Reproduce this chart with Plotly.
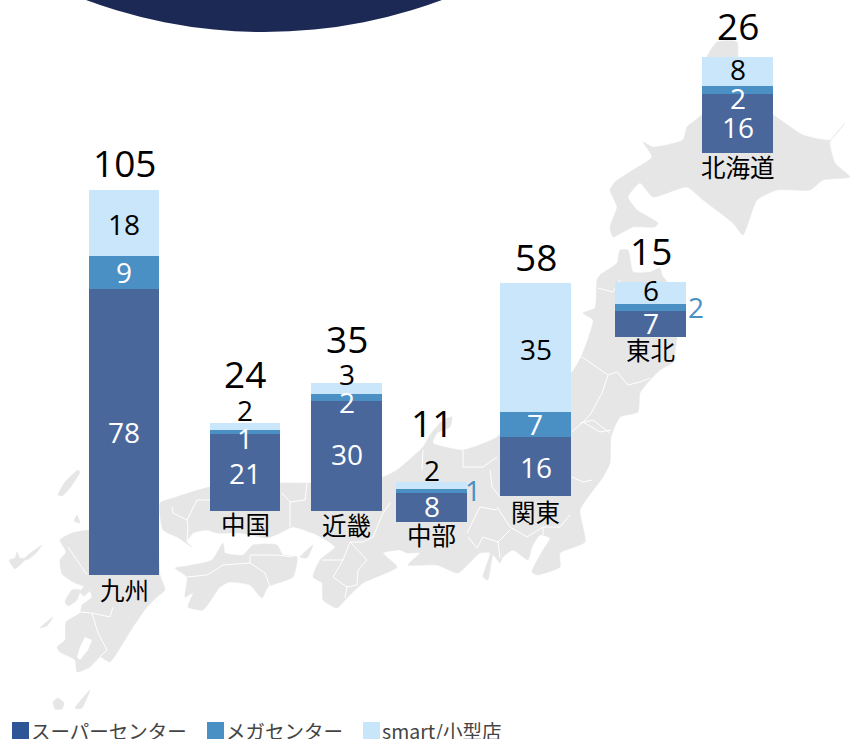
import numpy as np
import plotly.graph_objects as go

# ---------- chart data ----------
regions = ["九州", "中国", "近畿", "中部", "関東", "東北", "北海道"]
super_center = [78, 21, 30, 8, 16, 7, 16]
mega_center = [9, 1, 2, 1, 7, 2, 2]
smart_store = [18, 2, 3, 2, 35, 6, 8]
totals = [105, 24, 35, 11, 58, 15, 26]
series_names = ["スーパーセンター", "メガセンター", "smart/小型店"]

# ---------- layout of the pictogram ----------
bar_x = [124, 245, 346.5, 431.5, 535.5, 650.5, 737.5]
bar_bottom_px = [575, 511, 511, 522, 496, 337, 152.5]
PX_PER_STORE = 3.667
W, H = 850, 739

C_SUPER, C_MEGA, C_SMART = "#4a679c", "#4a90c5", "#c9e6fa"
C_SWATCH = ["#2e5596", "#4a90c5", "#c7e6fa"]
LAND = "#e6e6e6"

total_y = [162, 373, 338, 422, 256, 250, 25]
region_y = [589, 523, 524, 534, 511, 349, 166]
super_y = [432, 473, 454, 506, 467, 323, 127]
mega_pos = [(124, 272, "w"), (245, 438, "w"), (347, 402, "w"), (473, 490, "b"),
            (535, 424, "w"), (696, 307, "b"), (738, 98, "w")]
smart_y = [224, 410, 374, 470, 349, 290, 69]

# ---------- backdrop map outline (pixel space) ----------
land_polys = [
    # Hokkaido
    [(717,42),(707,57),(703,113),(687,127),(683,140),(653,147),(643,142),(652,157),(633,170),(615,182),(610,190),
     (617,207),(610,227),(613,237),(633,227),(655,227),(658,223),(637,210),(628,197),(640,183),(653,197),(687,187),
     (703,200),(733,223),(743,235),(757,200),(777,190),(810,190),(823,180),(850,177),(835,163),(830,142),(845,123),
     (830,140),(803,135),(773,115),(737,100),(737,42)],
    # Honshu
    [(160,503),(173,498),(210,487),(280,483),(307,483),(383,477),(397,470),(423,447),(430,435),(443,420),(452,417),
     (450,427),(437,433),(433,443),(463,450),(497,437),(520,410),(572,372),(582,355),(593,320),(583,313),(595,308),
     (597,280),(600,275),(617,263),(620,250),(628,250),(633,272),(650,272),(660,268),(662,275),(680,300),(676,345),
     (673,362),(660,370),(650,380),(640,393),(638,412),(620,417),(611,437),(610,463),(603,477),(580,510),(585,542),
     (560,553),(560,567),(537,575),(532,572),(543,550),(550,538),(540,535),(532,547),(528,560),(513,550),(503,557),
     (500,563),(493,555),(488,580),(483,577),(490,553),(480,553),(458,573),(437,565),(408,565),(420,553),(407,553),
     (400,550),(383,553),(397,567),(363,583),(347,598),(337,608),(323,600),(322,583),(313,577),(320,560),(335,547),
     (317,535),(293,527),(280,533),(267,538),(240,533),(217,533),(207,530),(193,533),(187,542),(192,547),(177,537),
     (163,530)],
    # Shikoku
    [(175,568),(187,566),(212,560),(223,543),(225,553),(243,555),(253,545),(277,545),(283,555),(297,557),(293,577),
     (268,587),(262,598),(250,585),(230,582),(220,587),(203,610),(188,607),(193,593),(185,597),(187,577)],
    # Awaji
    [(300,557),(313,545),(307,558)],
    # Kyushu
    [(89,530),(155,530),(160,575),(165,590),(157,597),(147,607),(133,627),(123,643),(110,662),(100,657),(90,667),
     (77,672),(75,660),(60,652),(57,647),(65,640),(66,622),(80,613),(82,605),(92,597),(88,588),(75,583),(62,574),
     (60,560),(66,552),(60,540),(72,533)],
    # Shimabara and nearby
    [(65,602),(72,590),(80,590),(77,600),(68,606)],
    [(80,592),(85,586),(90,590),(84,596)],
    # Tsushima, Iki, Goto, Koshiki, Tanegashima, Yakushima
    [(58,495),(65,482),(78,470),(80,472),(70,488),(62,496)],
    [(74,521),(77,515),(80,523)],
    [(9,560),(15,558),(17,552),(20,558),(27,558),(21,564),(15,569)],
    [(25,558),(42,545),(36,553),(27,560)],
    [(40,628),(53,617),(47,626)],
    [(75,708),(90,690),(82,708),(76,709)],
    [(53,702),(58,698),(64,703),(62,709),(55,709)],
]
bay_polys = [
    [(80,647),(85,637),(92,640),(88,650),(80,660),(77,657)],
]
border_lines = [
    [(582,357),(603,372),(608,375),(617,372),(628,385),(640,382),(650,378)],
    [(608,375),(602,393),(590,415),(583,422),(600,432),(611,430)],
    [(583,422),(572,432)],
    [(598,288),(613,292),(620,280)],
    [(572,477),(583,482),(592,480)],
    [(580,423),(593,420),(610,433)],
    [(497,507),(510,527),(527,537),(543,527),(543,535)],
    [(570,515),(560,527),(543,527)],
    [(467,533),(480,507),(497,510)],
    [(468,537),(477,548),(483,537),(498,542),(500,558)],
    [(498,542),(510,530)],
    [(423,450),(422,470)],
    [(463,450),(463,467),(483,467),(497,457)],
    [(490,470),(492,487),(500,497)],
    [(350,542),(343,560),(333,577),(347,587),(345,598)],
    [(350,542),(367,560),(358,570),(357,585),(347,587)],
    [(322,560),(343,560)],
    [(390,503),(383,513),(373,537),(363,542),(350,542)],
    [(282,493),(290,502),(290,527)],
    [(290,502),(305,500),(307,483)],
    [(172,507),(173,513),(187,520),(188,528),(187,542)],
    [(187,520),(197,500),(210,500)],
    [(187,577),(207,575),(223,565),(250,563),(265,573),(270,587)],
    [(250,555),(250,563)],
    [(250,555),(277,555),(293,557)],
    [(80,612),(92,613),(110,617),(113,607)],
    [(92,613),(98,633),(107,650),(100,657)],
    [(68,547),(75,557),(80,565),(87,575)],
]


def poly_xy(polys):
    xs, ys = [], []
    for p in polys:
        xs += [q[0] for q in p] + [p[0][0], None]
        ys += [q[1] for q in p] + [p[0][1], None]
    return xs, ys


def line_xy(lines):
    xs, ys = [], []
    for p in lines:
        xs += [q[0] for q in p] + [None]
        ys += [q[1] for q in p] + [None]
    return xs, ys


fig = go.Figure()

# backdrop map on the pixel axis (y)
for poly in land_polys:
    lx, ly = poly_xy([poly])
    fig.add_trace(go.Scatter(x=lx, y=ly, mode="lines", fill="toself", fillcolor=LAND,
                             line=dict(color=LAND, width=0.5, shape="spline", smoothing=0.5),
                             hoverinfo="skip", showlegend=False, yaxis="y"))
bx, by = poly_xy(bay_polys)
fig.add_trace(go.Scatter(x=bx, y=by, mode="lines", fill="toself", fillcolor="white", line=dict(color="white", width=0),
                         hoverinfo="skip", showlegend=False, yaxis="y"))
ex, ey = line_xy(border_lines)
fig.add_trace(go.Scatter(x=ex, y=ey, mode="lines", line=dict(color="white", width=1),
                         hoverinfo="skip", showlegend=False, yaxis="y"))

# stacked bars on the store-count axis (y2)
base0 = (H - np.array(bar_bottom_px)) / PX_PER_STORE
s1, s2, s3 = np.array(super_center), np.array(mega_center), np.array(smart_store)
for name, vals, base, col in [
    (series_names[0], s1, base0, C_SUPER),
    (series_names[1], s2, base0 + s1, C_MEGA),
    (series_names[2], s3, base0 + s1 + s2, C_SMART),
]:
    fig.add_trace(go.Bar(x=bar_x, y=vals, base=base, width=70.5, name=name, marker=dict(color=col, line=dict(width=0)),
                         customdata=regions, hovertemplate="%{customdata}: %{y}<extra>" + name + "</extra>",
                         showlegend=False, yaxis="y2"))

SANS = "Open Sans, Noto Sans CJK JP, sans-serif"
CJK = "Noto Sans CJK JP, sans-serif"
ann = []


def label(x, y, text, size, color="#000000", family=SANS, anchor="center"):
    ann.append(dict(x=x, y=y, xref="x", yref="y", text=str(text), showarrow=False, xanchor=anchor, yanchor="middle",
                    font=dict(size=size, color=color, family=family)))


for i in range(len(regions)):
    label(bar_x[i], total_y[i], totals[i], 37)
    label(bar_x[i], region_y[i], regions[i], 24.5, family=CJK)
    label(bar_x[i], super_y[i], super_center[i], 28, color="white")
    mx, my, mc = mega_pos[i]
    label(mx, my, mega_center[i], 28, color="white" if mc == "w" else C_MEGA)
    label(bar_x[i], smart_y[i], smart_store[i], 28)

shapes = [dict(type="circle", xref="x", yref="y", x0=264 - 511, x1=264 + 511, y0=32 - 1022, y1=32,
               fillcolor="#1c2955", line=dict(width=0), layer="below")]
for x0, col, name in zip([12, 207, 363], C_SWATCH, series_names):
    shapes.append(dict(type="rect", xref="x", yref="y", x0=x0, x1=x0 + 17, y0=722, y1=739, fillcolor=col,
                       line=dict(width=0), layer="above"))
    label(x0 + 16.5, 730, name, 19.5, color="#444444", family=CJK, anchor="left")

fig.update_layout(
    width=W, height=H, margin=dict(l=0, r=0, t=0, b=0, pad=0), paper_bgcolor="white", plot_bgcolor="white",
    barmode="overlay", bargap=0, showlegend=False, shapes=shapes, annotations=ann,
    xaxis=dict(range=[0, W], visible=False, fixedrange=True),
    yaxis=dict(range=[H, 0], visible=False, fixedrange=True),
    yaxis2=dict(range=[0, H / PX_PER_STORE], visible=False, overlaying="y", fixedrange=True),
)

fig.write_html("out.html", post_script="document.body.style.margin='0';", config=dict(displayModeBar=False))
